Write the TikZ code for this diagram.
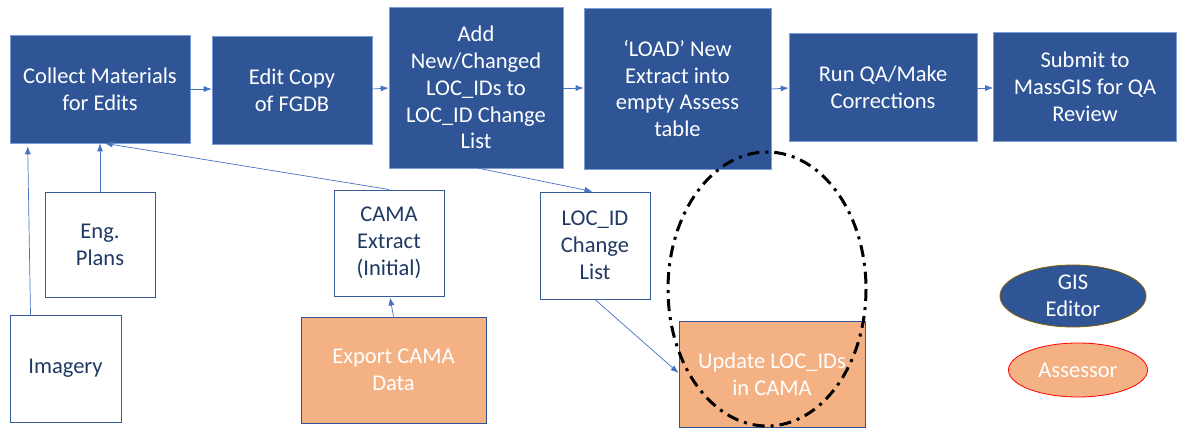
\documentclass[tikz,border=0pt]{standalone}
\usepackage{fontspec}
\setmainfont{Carlito}
\usetikzlibrary{calc,arrows.meta,shapes.geometric}
\definecolor{gblue}{HTML}{2F5597}
\definecolor{gedge}{HTML}{4472C4}
\definecolor{navy}{HTML}{1F3864}
\definecolor{orng}{HTML}{F4B183}
\definecolor{brwn}{HTML}{7F6000}
\begin{document}
\begin{tikzpicture}[x=1pt,y=-1pt,
  txt/.style={font=\fontsize{22.5}{26.8}\selectfont, align=center, inner sep=0pt},
  bluebox/.style={txt, rectangle, fill=gblue, draw=gedge!70!white, line width=0.6pt, text=white},
  whitebox/.style={txt, rectangle, fill=white, draw=gedge!80!black, line width=1pt, text=navy},
  orangebox/.style={txt, rectangle, fill=orng, draw=gblue, line width=1pt, text=white},
  conn/.style={draw=gedge, line width=0.7pt, -{Latex[length=8pt,width=6pt]}},
  sz/.style 2 args={minimum width=#1pt, minimum height=#2pt}
]
\useasboundingbox (0,0) rectangle (1178,428);
% top row
\node[bluebox, sz={180}{108}] (collect) at (100,89) {Collect Materials\\for Edits};
\node[bluebox, sz={160}{108}] (edit) at (292,90) {Edit Copy\\of FGDB};
\node[bluebox, sz={174}{161}] (add) at (476,87.5) {Add\\New/Changed\\LOC\_IDs to\\LOC\_ID Change\\List};
\node[bluebox, sz={187}{161}] (load) at (677.5,88.5) {‘LOAD’ New\\Extract into\\empty Assess\\table};
\node[bluebox, sz={188}{108}] (runqa) at (883,87) {Run QA/Make\\Corrections};
\node[bluebox, sz={183}{109}] (submit) at (1085,86.5) {Submit to\\MassGIS for QA\\Review};
% lower boxes
\node[whitebox, sz={110}{105}] (eng) at (100,245) {Eng.\\Plans};
\node[whitebox, sz={111}{107}] (img) at (65.5,368.5) {Imagery};
\node[whitebox, sz={110}{106}] (cama) at (389,243) {CAMA\\Extract\\(Initial)};
\node[orangebox, sz={185}{106}] (export) at (393.5,370) {Export CAMA\\Data};
\node[whitebox, sz={110}{107}] (locid) at (595,245.5) {LOC\_ID\\Change\\List};
\node[orangebox, sz={186}{106}] (update) at (772,374) {Update LOC\_IDs\\in CAMA};
% legend
\node[txt, ellipse, fill=gblue, draw=brwn, line width=0.8pt, text=white, minimum width=146pt, minimum height=62pt] (gis) at (1073,296) {GIS\\Editor};
\node[txt, ellipse, fill=orng, draw=red, line width=0.8pt, text=white, minimum width=139pt, minimum height=54pt] (assr) at (1078,370) {Assessor};
% connectors top row
\draw[conn] (collect.east |- 0,89) -- (edit.west |- 0,89);
\draw[conn] (edit.east |- 0,89) -- (add.west |- 0,88);
\draw[conn] (add.east |- 0,88) -- (load.west |- 0,88);
\draw[conn] (load.east |- 0,89) -- (runqa.west |- 0,88);
\draw[conn] (runqa.east |- 0,88) -- (submit.west |- 0,88);
% lower connectors
\coordinate (imgtop) at ($(img.north west)+(21,0)$);
\coordinate (colimg) at ($(collect.south west)+(18,3)$);
\draw[conn] (imgtop) -- (colimg);
\draw[conn] (eng.north) -- (eng.north |- collect.south);
\coordinate (colcama) at ($(collect.south west)+(95,0)$);
\draw[conn] (cama.north) -- (colcama);
\coordinate (addbot) at ($(add.south west)+(90,0)$);
\draw[conn] (addbot) -- ($(locid.north west)+(53,0)$);
\draw[conn] ($(export.north)+(0,0)$) -- ($(cama.south)+(1,1)$);
\draw[conn] (locid.south) -- ($(update.west)+(0,-1)$);
% dash-dot ellipse
\draw[black, line width=3pt, dash pattern=on 12pt off 6pt on 3pt off 6pt] (767,289) ellipse [x radius=99, y radius=137];
\end{tikzpicture}
\end{document}
